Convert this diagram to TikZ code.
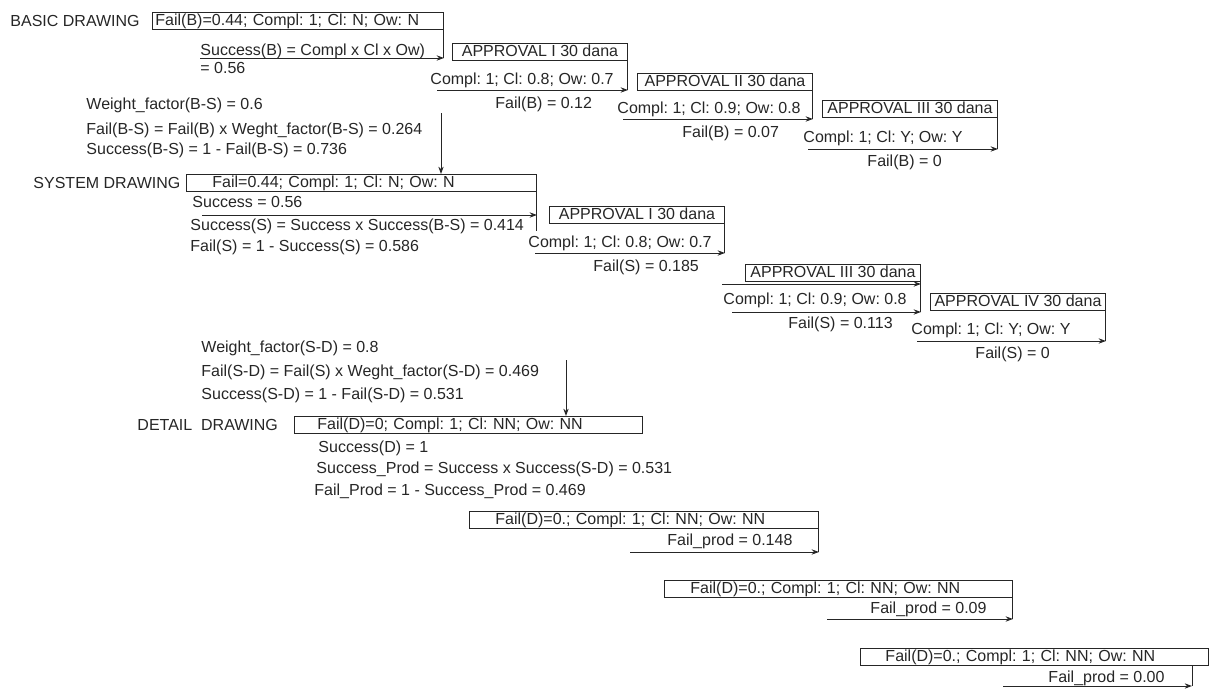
\documentclass[tikz,border=0pt]{standalone}
\usepackage{fontspec}
\setmainfont{Liberation Sans}
\usetikzlibrary{arrows.meta}
\frenchspacing
\begin{document}
\begin{tikzpicture}[
    x=0.75pt, y=-0.75pt,
    line width=0.7pt,
    color=black!85,
    every node/.style={font=\fontsize{12}{14}\selectfont},
    lbl/.style={anchor=base west, inner sep=0pt},
    bar/.style={draw, anchor=north west, inner sep=0pt, minimum height=12.75pt,
        text height=8.8pt, text depth=2.6pt, text width=#1, align=left},
    appr/.style={draw, anchor=north west, inner sep=0pt, minimum width=131.25pt,
        minimum height=12.75pt, text height=8.8pt, text depth=2.6pt},
    arr/.style={-{Stealth[length=5.5pt, width=4pt]}}
]
\useasboundingbox (0,0) rectangle (1211,689);

\node[lbl] (basic) at (10,26) {BASIC DRAWING};
\node[bar=218.25pt] (b0) at (152,12) {\hspace*{2.25pt}Fail(B)=0.44; Compl: 1; Cl: N; Ow: N};
\node[lbl] (b0s) at (200,55) {Success(B) = Compl x Cl x Ow)};
\node[lbl] (b0r) at (200,73) {= 0.56};
\coordinate (a1) at (200,58);
\draw (b0.south east) -- (b0.south east |- a1);
\draw[arr] (a1) -- (b0.south east |- a1);

\node[appr] (ba1) at (452,43) {APPROVAL I 30 dana};
\node[lbl] (ba1c) at (430,84) {Compl: 1; Cl: 0.8; Ow: 0.7};
\node[lbl] (ba1f) at (495,108) {Fail(B) = 0.12};
\coordinate (a2) at (437,90);
\draw (ba1.south east) -- (ba1.south east |- a2);
\draw[arr] (a2) -- (ba1.south east |- a2);

\node[appr] (ba2) at (637,73) {APPROVAL II 30 dana};
\node[lbl] (ba2c) at (617,113) {Compl: 1; Cl: 0.9; Ow: 0.8};
\node[lbl] (ba2f) at (682,137) {Fail(B) = 0.07};
\coordinate (a3) at (623,119);
\draw (ba2.south east) -- (ba2.south east |- a3);
\draw[arr] (a3) -- (ba2.south east |- a3);

\node[appr] (ba3) at (822,100) {APPROVAL III 30 dana};
\node[lbl] (ba3c) at (803,142) {Compl: 1; Cl: Y; Ow: Y};
\node[lbl] (ba3f) at (867,166) {Fail(B) = 0};
\coordinate (a4) at (808,149);
\draw (ba3.south east) -- (ba3.south east |- a4);
\draw[arr] (a4) -- (ba3.south east |- a4);

\node[lbl] (ws1) at (86,109) {Weight\_factor(B-S) = 0.6};
\node[lbl] (ws2) at (86,134) {Fail(B-S) = Fail(B) x Weght\_factor(B-S) = 0.264};
\node[lbl] (ws3) at (86,154) {Success(B-S) = 1 - Fail(B-S) = 0.736};

\node[lbl] (system) at (33,188) {SYSTEM DRAWING};
\node[bar=262.5pt] (s0) at (186,174) {\hspace*{19.5pt}Fail=0.44; Compl: 1; Cl: N; Ow: N};
\coordinate (v1) at (441,113);
\draw[arr] (v1) -- (v1 |- s0.north);
\node[lbl] (s0a) at (192,207) {Success = 0.56};
\node[lbl] (s0b) at (190,230) {Success(S) = Success x Success(B-S) = 0.414};
\node[lbl] (s0c) at (190,251) {Fail(S) = 1 - Success(S) = 0.586};
\coordinate (a5) at (202,215);
\coordinate (s0k) at (536,231);
\draw (s0.south east) -- (s0.south east |- s0k);
\draw[arr] (a5) -- (s0.south east |- a5);

\node[appr] (sa1) at (549,206) {APPROVAL I 30 dana};
\node[lbl] (sa1c) at (528,247) {Compl: 1; Cl: 0.8; Ow: 0.7};
\node[lbl] (sa1f) at (593,271) {Fail(S) = 0.185};
\coordinate (a6) at (535,253);
\draw (sa1.south east) -- (sa1.south east |- a6);
\draw[arr] (a6) -- (sa1.south east |- a6);

\node[appr] (sa3) at (745,264) {APPROVAL III 30 dana};
\node[lbl] (sa3c) at (723,304) {Compl: 1; Cl: 0.9; Ow: 0.8};
\node[lbl] (sa3f) at (788,328) {Fail(S) = 0.113};
\coordinate (a7) at (722,284);
\coordinate (a8) at (732,312);
\draw (sa3.south east) -- (sa3.south east |- a8);
\draw[arr] (a7) -- (sa3.south east |- a7);
\draw[arr] (a8) -- (sa3.south east |- a8);

\node[appr] (sa4) at (930,293) {APPROVAL IV 30 dana};
\node[lbl] (sa4c) at (911,334) {Compl: 1; Cl: Y; Ow: Y};
\node[lbl] (sa4f) at (975,358) {Fail(S) = 0};
\coordinate (a9) at (917,341);
\draw (sa4.south east) -- (sa4.south east |- a9);
\draw[arr] (a9) -- (sa4.south east |- a9);

\node[lbl] (wd1) at (201,352) {Weight\_factor(S-D) = 0.8};
\node[lbl] (wd2) at (201,376) {Fail(S-D) = Fail(S) x Weght\_factor(S-D) = 0.469};
\node[lbl] (wd3) at (201,399) {Success(S-D) = 1 - Fail(S-D) = 0.531};

\node[lbl] (detail) at (137,430) {DETAIL~~DRAWING};
\node[bar=261pt] (d0) at (294,416) {\hspace*{17.25pt}Fail(D)=0; Compl: 1; Cl: NN; Ow: NN};
\coordinate (v2) at (566,360);
\draw[arr] (v2) -- (v2 |- d0.north);
\node[lbl] (d0a) at (318,452) {Success(D) = 1};
\node[lbl] (d0b) at (316,473) {Success\_Prod = Success x Success(S-D) = 0.531};
\node[lbl] (d0c) at (314,495) {Fail\_Prod = 1 - Success\_Prod = 0.469};

\node[bar=261.75pt] (p1) at (469,511) {\hspace*{19.5pt}Fail(D)=0.; Compl: 1; Cl: NN; Ow: NN};
\node[lbl] (p1f) at (667,545) {Fail\_prod = 0.148};
\coordinate (a10) at (630,552);
\draw (p1.south east) -- (p1.south east |- a10);
\draw[arr] (a10) -- (p1.south east |- a10);

\node[bar=261pt] (p2) at (664,580) {\hspace*{19.5pt}Fail(D)=0.; Compl: 1; Cl: NN; Ow: NN};
\node[lbl] (p2f) at (870,613) {Fail\_prod = 0.09};
\coordinate (a11) at (827,619);
\draw (p2.south east) -- (p2.south east |- a11);
\draw[arr] (a11) -- (p2.south east |- a11);

\node[bar=261pt] (p3) at (860,648) {\hspace*{18.75pt}Fail(D)=0.; Compl: 1; Cl: NN; Ow: NN};
\node[lbl] (p3f) at (1048,682) {Fail\_prod = 0.00};
\coordinate (a12) at (1003,686);
\coordinate (p3k) at (1192,686);
\draw (p3k |- p3.south) -- (p3k);
\draw[arr] (a12) -- (p3k);
\end{tikzpicture}
\end{document}
